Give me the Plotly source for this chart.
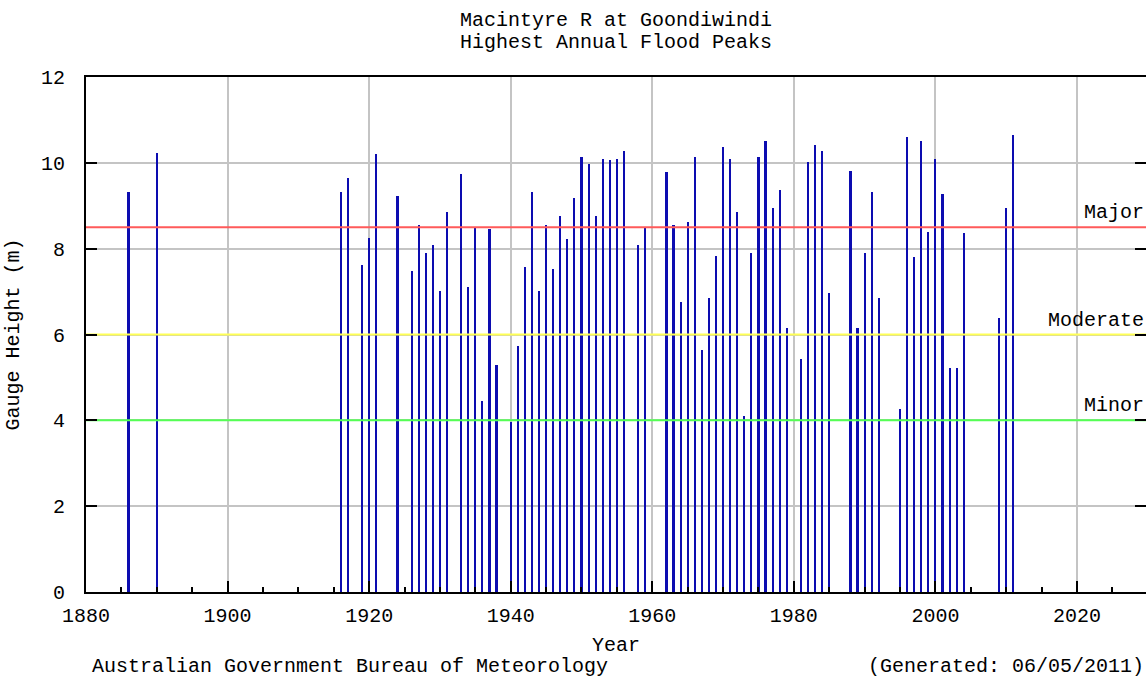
import plotly.graph_objects as go

years = [1886, 1890, 1916, 1917, 1919, 1920, 1921, 1924, 1926, 1927,
         1928, 1929, 1930, 1931, 1933, 1934, 1935, 1936, 1937, 1938,
         1940, 1941, 1942, 1943, 1944, 1945, 1946, 1947, 1948, 1949,
         1950, 1951, 1952, 1953, 1954, 1955, 1956, 1958, 1959, 1962,
         1963, 1964, 1965, 1966, 1967, 1968, 1969, 1970, 1971, 1972,
         1973, 1974, 1975, 1976, 1977, 1978, 1979, 1981, 1982, 1983,
         1984, 1985, 1988, 1989, 1990, 1991, 1992, 1995, 1996, 1997,
         1998, 1999, 2000, 2001, 2002, 2003, 2004, 2009, 2010, 2011]
peaks = [9.32, 10.24, 9.32, 9.64, 7.62, 8.26, 10.20, 9.23, 7.48, 8.54,
         7.89, 8.08, 7.02, 8.86, 9.73, 7.11, 8.50, 4.45, 8.45, 5.28,
         3.95, 5.74, 7.58, 9.32, 7.02, 8.54, 7.53, 8.77, 8.22, 9.18,
         10.14, 9.97, 8.77, 10.10, 10.06, 10.10, 10.28, 8.08, 8.50, 9.78,
         8.54, 6.75, 8.63, 10.14, 5.65, 6.84, 7.84, 10.38, 10.10, 8.86,
         4.09, 7.89, 10.14, 10.52, 8.95, 9.37, 6.15, 5.42, 10.01, 10.42,
         10.28, 6.97, 9.82, 6.15, 7.90, 9.32, 6.84, 4.27, 10.61, 7.80,
         10.52, 8.40, 10.10, 9.27, 5.23, 5.23, 8.36, 6.38, 8.95, 10.66]

flood_names = ["Major", "Moderate", "Minor"]
flood_levels = [8.5, 6.0, 4.0]
flood_colors = ["#ff5a5a", "#ffff55", "#55ff55"]

x_ticks = [1880, 1900, 1920, 1940, 1960, 1980, 2000, 2020]
y_ticks = [0, 2, 4, 6, 8, 10, 12]
X_RANGE = [1880, 2029.75]
Y_RANGE = [0, 12]

title_lines = ["Macintyre R at Goondiwindi", "Highest Annual Flood Peaks"]

FONT = "Liberation Mono, DejaVu Sans Mono, monospace"
FS = 20

fig = go.Figure()

# flood class lines (drawn as traces so they sit above the grid, below the bars)
for name, lvl, col in zip(flood_names, flood_levels, flood_colors):
    fig.add_trace(go.Scatter(x=X_RANGE, y=[lvl, lvl], mode="lines",
                             line=dict(color=col, width=2), showlegend=False,
                             hoverinfo="skip", cliponaxis=True))
    fig.add_annotation(text=name, xref="paper", x=1, xanchor="right",
                       yref="y", y=lvl, yanchor="bottom", yshift=1,
                       showarrow=False, font=dict(family=FONT, size=FS, color="#000"))

fig.add_trace(go.Bar(x=years, y=peaks, width=0.3,
                     marker=dict(color="#0c0cb0", line=dict(width=0)),
                     showlegend=False, hoverinfo="x+y"))

for i, line in enumerate(title_lines):
    fig.add_annotation(text=line, xref="paper", x=0.5, xanchor="center",
                       yref="paper", y=1 + (57 - 23 * i) / 515, yanchor="middle",
                       showarrow=False, font=dict(family=FONT, size=FS, color="#000"))

fig.update_layout(
    width=1146, height=679,
    margin=dict(l=86, r=0, t=77, b=87, autoexpand=False),
    paper_bgcolor="white", plot_bgcolor="white",
    font=dict(family=FONT, size=FS, color="#000"),
    bargap=0,
)
fig.update_xaxes(range=X_RANGE, tickvals=x_ticks,
                 ticks="inside", ticklen=11, tickwidth=1.5, tickcolor="#000",
                 minor=dict(ticks="inside", ticklen=5, tickwidth=1.5, tickcolor="#000",
                            dtick=5, tick0=1880, showgrid=False),
                 showgrid=True, gridcolor="#c4c4c4", gridwidth=2,
                 showline=True, linecolor="#000", linewidth=2, mirror=True,
                 zeroline=False, ticklabelstandoff=4, automargin=False,
                 title=dict(text="Year", standoff=10, font=dict(family=FONT, size=FS)))
fig.update_yaxes(range=Y_RANGE, tickvals=y_ticks,
                 ticks="inside", ticklen=11, tickwidth=1.5, tickcolor="#000",
                 showgrid=True, gridcolor="#c4c4c4", gridwidth=2,
                 showline=True, linecolor="#000", linewidth=2, mirror="ticks",
                 zeroline=False, ticklabelstandoff=15, automargin=False,
                 title=dict(text="Gauge Height (m)", standoff=16, font=dict(family=FONT, size=FS)))

fig.add_annotation(text="Australian Government Bureau of Meteorology",
                   xref="paper", x=(90 - 86) / 1060, xanchor="left",
                   yref="paper", y=-74 / 515, yanchor="middle", showarrow=False,
                   font=dict(family=FONT, size=FS))
fig.add_annotation(text="(Generated: 06/05/2011)",
                   xref="paper", x=1, xanchor="right",
                   yref="paper", y=-74 / 515, yanchor="middle", showarrow=False,
                   font=dict(family=FONT, size=FS))

fig.write_html("out.html", config={"displayModeBar": False},
               post_script="document.body.style.margin='0';document.body.style.overflow='hidden';")
